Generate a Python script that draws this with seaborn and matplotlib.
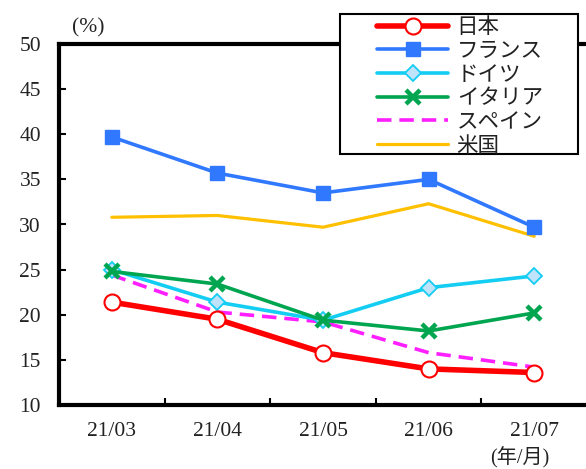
import matplotlib
matplotlib.use("Agg")
import matplotlib.pyplot as plt
from matplotlib.patches import Rectangle
import seaborn as sns
import pandas as pd

months = ["21/03", "21/04", "21/05", "21/06", "21/07"]
japan = [21.4, 19.5, 15.8, 14.0, 13.6]
france = [39.7, 35.7, 33.5, 35.0, 29.7]
germany = [25.0, 21.4, 19.4, 23.0, 24.3]
italy = [24.8, 23.4, 19.4, 18.2, 20.2]
spain = [24.4, 20.3, 19.2, 15.8, 14.2]
usa = [30.8, 31.0, 29.7, 32.3, 28.7]

names = ["日本", "フランス", "ドイツ", "イタリア", "スペイン", "米国"]
yticks = [10, 15, 20, 25, 30, 35, 40, 45, 50]

sns.set_theme(style="white")
plt.rcParams["font.family"] = ["Liberation Serif", "Noto Sans CJK JP"]

fig = plt.figure(figsize=(5.86, 4.69), dpi=100)
ax = fig.add_axes([59 / 586, 1 - 405 / 469, 528 / 586, 361 / 469])

x = list(range(len(months)))
styles = {
    "日本": dict(data=japan, color="#FF0000", lw=4.0, marker="o", ms=11.5,
                 mfc="white", mec="#FF0000", mew=1.5, z=8),
    "フランス": dict(data=france, color="#3079FF", lw=2.6, marker="s", ms=9.5,
                  mfc="#3079FF", mec="#3079FF", mew=1, z=7),
    "ドイツ": dict(data=germany, color="#14CDF2", lw=2.6, marker="D", ms=8,
                 mfc="#BFE3FA", mec="#14CDF2", mew=1.3, z=5),
    "イタリア": dict(data=italy, color="#00A550", lw=2.6, marker="x", ms=10,
                  mfc="#00A550", mec="#00A550", mew=3.2, z=6),
    "スペイン": dict(data=spain, color="#FF1EFF", lw=2.6, marker=None, ms=0,
                  mfc="none", mec="none", mew=0, z=4, ls=(0, (4.0, 2.2))),
    "米国": dict(data=usa, color="#FFC000", lw=2.3, marker=None, ms=0,
               mfc="none", mec="none", mew=0, z=3),
}

handles = []
for name in names:
    s = styles[name]
    df = pd.DataFrame({"x": x, "y": s["data"]})
    sns.lineplot(data=df, x="x", y="y", ax=ax, color=s["color"], lw=s["lw"],
                 marker=s["marker"], markersize=s["ms"], markerfacecolor=s["mfc"],
                 markeredgecolor=s["mec"], markeredgewidth=s["mew"],
                 linestyle=s.get("ls", "-"), zorder=s["z"], label=name,
                 legend=False)
    handles.append(ax.lines[-1])

ax.set_xlim(-0.5, 4.5)
ax.set_ylim(10, 50)
ax.set_xticks(x)
ax.set_xticklabels(months)
ax.set_xticks([0.5, 1.5, 2.5, 3.5], minor=True)
ax.set_yticks(yticks)
ax.set_yticklabels([str(v) for v in yticks])
ax.set_xlabel("")
ax.set_ylabel("")
ax.tick_params(axis="x", which="major", length=0, pad=12, labelsize=15.5,
               colors="#222222")
ax.tick_params(axis="x", which="minor", direction="in", length=5, width=1.5,
               color="black", bottom=True)
ax.tick_params(axis="y", which="major", direction="in", length=5, width=1.5,
               color="black", left=True, pad=13, labelsize=15.5,
               labelcolor="#222222")

for side in ["left", "bottom", "top"]:
    ax.spines[side].set_visible(True)
    ax.spines[side].set_color("black")
    ax.spines[side].set_linewidth(3)
ax.spines["right"].set_color("#999999")
ax.spines["right"].set_linewidth(1)

# legend with its own frame
fig.patches.append(Rectangle((340 / 586, 1 - 154 / 469), 238 / 586, 140 / 469,
                             transform=fig.transFigure, facecolor="white",
                             edgecolor="black", lw=1.5, zorder=10))
leg = fig.legend(handles, names, loc="upper left",
                 bbox_to_anchor=(362 / 586, 1 - 1 / 469),
                 frameon=False, handlelength=3.3, handletextpad=0.4,
                 labelspacing=0.08, borderpad=0.2,
                 prop={"family": "Noto Sans CJK JP", "size": 15.5})
leg.set_zorder(11)
for t in leg.get_texts():
    t.set_color("#222222")

fig.text(88 / 586, 1 - 28 / 469, "(%)", ha="center", va="center", fontsize=15.5,
         color="#222222")
fig.text(520 / 586, 1 - 458 / 469, "(年/月)", ha="center", va="center",
         fontsize=14.5, color="#222222",
         family=["Liberation Serif", "Noto Sans CJK JP"])

fig.savefig("out.png", dpi=100, facecolor="white")
